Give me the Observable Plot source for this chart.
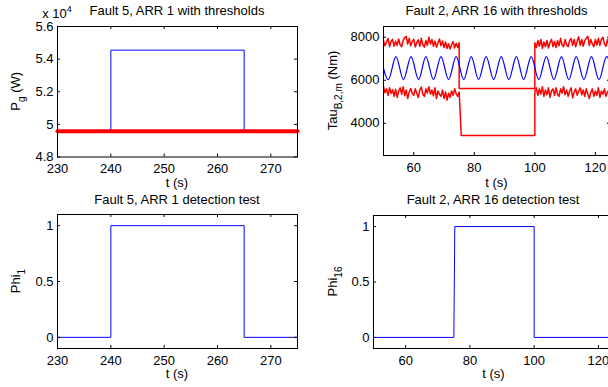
<!DOCTYPE html>
<html><head><meta charset="utf-8">
<script src="https://cdn.jsdelivr.net/npm/d3@7"></script>
<script src="https://cdn.jsdelivr.net/npm/@observablehq/plot@0.6"></script>
<style>
html,body{margin:0;padding:0;background:#fff;overflow:hidden;}
#wrap{position:relative;width:608px;height:387px;overflow:hidden;background:#fff;}
#wrap svg{position:absolute;overflow:visible;}
</style></head><body><div id="wrap"></div>
<script>
// ---------- Panel 1: Fault 5, ARR 1 with thresholds ----------
const p1T = [230, 240, 240, 265, 265, 275];
const p1V = [49600, 49600, 54550, 54550, 49600, 49600];
const p1ThrT = [230, 275];
const p1ThrV = [49580, 49580];
const p1XTicks = [230, 240, 250, 260, 270];
const p1YTicks = [48000, 50000, 52000, 54000, 56000];

// ---------- Panel 2: Fault 2, ARR 16 with thresholds ----------
// residual signal: extrema times (s) and values (Nm)
const sineT = [49.1, 51.6, 54.1, 56.6, 59.1, 61.6, 64.0, 66.5, 69.0, 71.5, 74.0, 76.5, 79.0, 81.4, 83.9, 86.4,
               88.9, 91.4, 93.9, 96.3, 98.8, 101.3, 103.8, 106.3, 108.8, 111.2, 113.7, 116.2, 118.7, 121.2, 123.7, 126.2];
const sineV = [7100, 6030, 7100, 6030, 7100, 6030, 7100, 6030, 7100, 6030, 7100, 6030, 7100, 6030, 7100, 6030,
               7100, 6030, 7100, 6030, 7100, 6030, 7100, 6030, 7100, 6030, 7100, 6030, 7100, 6030, 7100, 6030];
// thresholds sampled every 0.5 s outside the fault window
const upperPre = [7850, 7600, 7780, 7950, 7560, 7800, 7900, 7580, 7820, 7620,
                  7920, 7650, 7560, 7850, 7980, 8050, 7680, 7950, 7600, 7800,
                  7900, 7550, 7760, 7880, 7580, 7950, 7650, 7540, 7850, 7620,
                  8000, 7680, 7900, 7580, 7820, 7540, 7750, 7920, 7600, 7820,
                  7520, 7780, 7480, 7700, 7450, 7650, 7800, 7500, 7720, 7520, 7750];
const upperPost = [7750, 7520, 7850, 7580, 7900, 7480, 7780, 7560, 7850, 7500,
                   7760, 7900, 7560, 7800, 7520, 7850, 7600, 7950, 7640, 7560,
                   7900, 7650, 7560, 7850, 7950, 7620, 7900, 7560, 7820, 8020,
                   7620, 7900, 7580, 7850, 7950, 8050, 7620, 7900, 7680, 7560,
                   7900, 7640, 7950, 7620, 7900, 8000, 7680, 7580, 7900, 7650, 7850];
const lowerPre = [5700, 5420, 5600, 5300, 5650, 5380, 5560, 5250, 5580, 5200,
                  5500, 5650, 5350, 5700, 5280, 5550, 5150, 5450, 5620, 5380,
                  5300, 5600, 5400, 5200, 5550, 5680, 5350, 5250, 5600, 5400,
                  5700, 5350, 5550, 5280, 5650, 5150, 5500, 5350, 5250, 5550,
                  5150, 5450, 5080, 5400, 5200, 5500, 5300, 5600, 5380, 5250, 5450];
const lowerPost = [5500, 5650, 5300, 5600, 5350, 5700, 5250, 5550, 5320, 5650,
                   5200, 5500, 5600, 5300, 5650, 5350, 5250, 5600, 5400, 5700,
                   5320, 5550, 5250, 5500, 5650, 5180, 5450, 5600, 5300, 5500,
                   5650, 5320, 5550, 5250, 5600, 5350, 5150, 5450, 5600, 5250,
                   5500, 5300, 5650, 5200, 5500, 5350, 5600, 5250, 5450, 5550, 5350];
const faultUpperT = [75, 100];
const faultUpperV = [5620, 5620];
const faultLowerT = [75.7, 100];
const faultLowerV = [3430, 3430];
const p2XTicks = [60, 80, 100, 120];
const p2YTicks = [4000, 6000, 8000];

// ---------- Panel 3 / 4: detection tests ----------
const p3T = [230, 240, 240, 265, 265, 275];
const p3V = [0, 0, 1, 1, 0, 0];
const p4T = [50, 75, 75.3, 100, 100, 125];
const p4V = [0, 0, 1, 1, 0, 0];
const phiTicks = [0, 0.5, 1];

// ---------- helpers ----------
const zip = (ts, vs) => ts.map((t, i) => ({t, v: vs[i]}));
const grid = (start, n) => d3.range(n).map(i => start + i * 0.5);
const FONT = "'Liberation Sans', Arial, Helvetica, sans-serif";
const wrap = document.getElementById("wrap");

function panel(cfg) {
  const {left, top, width, height, mL, mR, mT, mB, xd, yd, xt, yt, yfmt, marks} = cfg;
  const fw = width - mL - mR, fh = height - mT - mB;
  const dy = 3 / fh * (yd[1] - yd[0]), dx = 3 / fw * (xd[1] - xd[0]);
  const svg = Plot.plot({
    width, height, marginLeft: mL, marginRight: mR, marginTop: mT, marginBottom: mB,
    style: {fontFamily: FONT, fontSize: "13px", color: "black", background: "transparent", overflow: "visible"},
    x: {domain: xd, ticks: xt, tickSize: 0, tickPadding: 7, tickFormat: d => String(d), label: null},
    y: {domain: yd, ticks: yt, tickSize: 0, tickPadding: 4, tickFormat: yfmt || (d => String(d)), label: null},
    marks: [
      ...marks,
      Plot.ruleX(xt, {x: d => d, y1: yd[0], y2: yd[0] + dy, stroke: "black"}),
      Plot.ruleX(xt, {x: d => d, y1: yd[1], y2: yd[1] - dy, stroke: "black"}),
      Plot.ruleY(yt, {y: d => d, x1: xd[0], x2: xd[0] + dx, stroke: "black"}),
      Plot.ruleY(yt, {y: d => d, x1: xd[1], x2: xd[1] - dx, stroke: "black"}),
      Plot.frame({stroke: "black", strokeWidth: 1})
    ]
  });
  svg.style.left = left + "px";
  svg.style.top = top + "px";
  wrap.appendChild(svg);
  const s = d3.select(svg);
  const cx = mL + fw / 2;
  // title
  s.append("text").attr("x", cfg.titleX ?? cx).attr("y", cfg.titleY).attr("text-anchor", "middle")
    .attr("fill", "black").attr("font-size", 13).text(cfg.title);
  // x label
  s.append("text").attr("x", cx).attr("y", cfg.xlabY).attr("text-anchor", "middle")
    .attr("fill", "black").attr("font-size", 13).text("t (s)");
  // y label with subscript
  const yl = s.append("text").attr("transform", `translate(${cfg.ylabX},${mT + fh / 2}) rotate(-90)`)
    .attr("text-anchor", "middle").attr("fill", "black").attr("font-size", 13);
  yl.append("tspan").text(cfg.ylab[0]);
  yl.append("tspan").attr("font-size", 10).attr("dy", 5).text(cfg.ylab[1]);
  yl.append("tspan").attr("dy", -5).text(cfg.ylab[2]);
  return s;
}

// Panel 1
const s1 = panel({
  left: 0, top: 0, width: 304, height: 194, mL: 57, mR: 7, mT: 26, mB: 37.5,
  xd: [230, 275], yd: [48000, 56000], xt: p1XTicks, yt: p1YTicks, yfmt: d => String(d / 1e4),
  marks: [
    Plot.line(zip(p1T, p1V), {x: "t", y: "v", stroke: "#0000ff", strokeWidth: 1}),
    Plot.line(zip(p1ThrT, p1ThrV), {x: "t", y: "v", stroke: "#ff0000", strokeWidth: 4})
  ],
  title: "Fault 5, ARR 1 with thresholds", titleX: 177, titleY: 14.5, xlabY: 187,
  ylabX: 20, ylab: ["P", "g", " (W)"]
});
const ex = s1.append("text").attr("x", 57).attr("y", 18).attr("fill", "black").attr("font-size", 13);
ex.append("tspan").text("x 10");
ex.append("tspan").attr("font-size", 9).attr("dy", -6).text("4");

// Panel 2
const upper = [...zip(grid(50, upperPre.length), upperPre), ...zip(faultUpperT, faultUpperV), ...zip(grid(100, upperPost.length), upperPost)];
const lower = [...zip(grid(50, lowerPre.length), lowerPre), ...zip(faultLowerT, faultLowerV), ...zip(grid(100, lowerPost.length), lowerPost)];
panel({
  left: 304, top: 0, width: 306, height: 194, mL: 79, mR: 0, mT: 26, mB: 39,
  xd: [50, 125], yd: [2500, 8500], xt: p2XTicks, yt: p2YTicks,
  marks: [
    Plot.line(upper, {x: "t", y: "v", stroke: "#ff0000", strokeWidth: 1.5, clip: true}),
    Plot.line(lower, {x: "t", y: "v", stroke: "#ff0000", strokeWidth: 1.5, clip: true}),
    Plot.line(zip(sineT, sineV), {x: "t", y: "v", stroke: "#0000ff", strokeWidth: 1.2, curve: "monotone-x", clip: true})
  ],
  title: "Fault 2, ARR 16 with thresholds", titleX: 192.5, titleY: 15, xlabY: 187,
  ylabX: 33, ylab: ["Tau", "B,2,m", " (Nm)"]
});

// Panel 3
panel({
  left: 0, top: 194, width: 304, height: 193, mL: 57, mR: 7, mT: 20, mB: 39,
  xd: [230, 275], yd: [-0.1, 1.1], xt: p1XTicks, yt: phiTicks,
  marks: [Plot.line(zip(p3T, p3V), {x: "t", y: "v", stroke: "#0000ff", strokeWidth: 1})],
  title: "Fault 5, ARR 1 detection test", titleY: 10, xlabY: 184,
  ylabX: 20, ylab: ["Phi", "1", ""]
});

// Panel 4
panel({
  left: 304, top: 194, width: 310, height: 193, mL: 69, mR: 0, mT: 21, mB: 39,
  xd: [50, 125], yd: [-0.1, 1.1], xt: p2XTicks, yt: phiTicks,
  marks: [Plot.line(zip(p4T, p4V), {x: "t", y: "v", stroke: "#0000ff", strokeWidth: 1})],
  title: "Fault 2, ARR 16 detection test", titleX: 189, titleY: 10, xlabY: 184,
  ylabX: 33, ylab: ["Phi", "16", ""]
});
</script></body></html>
